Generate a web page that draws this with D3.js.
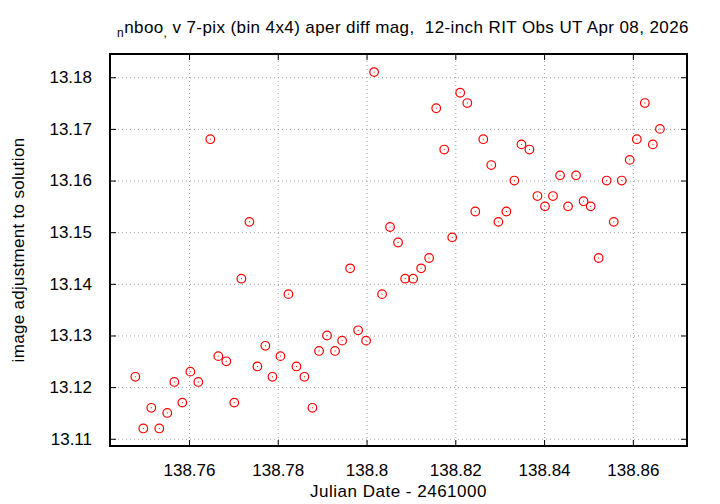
<!DOCTYPE html>
<meta charset="utf-8">
<style>
body { margin: 0; background: #fff; }
text { font-family: "Liberation Sans", Arial, sans-serif; }
.grid line { stroke: #a0a0a0; stroke-width: 1; stroke-dasharray: 1,3; }
.grid path { display: none; }
.axis path { display: none; }
.axis line { stroke: #000; stroke-width: 1; }
.axis text { font-size: 17px; fill: #000; }
.pt { fill: none; stroke: #f00; stroke-width: 1.2; }
</style>
<body>
<script src="https://cdn.jsdelivr.net/npm/d3@7"></script>
<script>

var width = 720, height = 504;
var margin = {left: 110, right: 33, top: 54, bottom: 58};

// julian date - 2461000
var jd = [138.7479, 138.7497, 138.7515, 138.7533, 138.7551, 138.7567, 138.7585, 138.7603, 138.7621,
  138.7648, 138.7666, 138.7684, 138.7702, 138.7718, 138.7736, 138.7754, 138.7772, 138.7788,
  138.7806, 138.7824, 138.7842, 138.7860, 138.7878, 138.7893, 138.7911, 138.7929, 138.7945,
  138.7963, 138.7981, 138.7999, 138.8017, 138.8035, 138.8053, 138.8071, 138.8087, 138.8105,
  138.8123, 138.8141, 138.8157, 138.8175, 138.8193, 138.8211, 138.8227, 138.8245, 138.8263,
  138.8281, 138.8297, 138.8315, 138.8333, 138.8349, 138.8367, 138.8385, 138.8402, 138.8420,
  138.8436, 138.8454, 138.8472, 138.8489, 138.8505, 138.8523, 138.8541, 138.8557, 138.8575,
  138.8593, 138.8609, 138.8627, 138.8645, 138.8661];
var mag = [13.122, 13.112, 13.116, 13.112, 13.115, 13.121, 13.117, 13.123, 13.121,
  13.168, 13.126, 13.125, 13.117, 13.141, 13.152, 13.124, 13.128, 13.122,
  13.126, 13.138, 13.124, 13.122, 13.116, 13.127, 13.130, 13.127, 13.129,
  13.143, 13.131, 13.129, 13.181, 13.138, 13.151, 13.148, 13.141, 13.141,
  13.143, 13.145, 13.174, 13.166, 13.149, 13.177, 13.175, 13.154, 13.168,
  13.163, 13.152, 13.154, 13.160, 13.167, 13.166, 13.157, 13.155, 13.157,
  13.161, 13.155, 13.161, 13.156, 13.155, 13.145, 13.160, 13.152, 13.160,
  13.164, 13.168, 13.175, 13.167, 13.170];

var xTicks = [138.76, 138.78, 138.8, 138.82, 138.84, 138.86];
var yTicks = [13.11, 13.12, 13.13, 13.14, 13.15, 13.16, 13.17, 13.18];

var svg = d3.select("body").append("svg")
    .attr("width", width)
    .attr("height", height);

var x = d3.scaleLinear().domain([138.7422, 138.8722]).range([margin.left, width - margin.right]);
var y = d3.scaleLinear().domain([13.1086, 13.1845]).range([height - margin.bottom, margin.top]);

var fmt = function(d) { return String(+d.toFixed(2)); };
var x0 = margin.left, x1 = width - margin.right, y0 = height - margin.bottom, y1 = margin.top;

// dotted grid
svg.append("g").attr("class", "grid")
    .attr("transform", "translate(0," + y0 + ")")
    .call(d3.axisBottom(x).tickValues(xTicks).tickSize(-(y0 - y1)).tickFormat(""));
svg.append("g").attr("class", "grid")
    .attr("transform", "translate(" + x0 + ",0)")
    .call(d3.axisLeft(y).tickValues(yTicks).tickSize(-(x1 - x0)).tickFormat(""));

// axes, ticks inward and mirrored
svg.append("g").attr("class", "axis")
    .attr("transform", "translate(0," + y0 + ")")
    .call(d3.axisBottom(x).tickValues(xTicks).tickSizeInner(-6).tickPadding(18).tickFormat(fmt));
svg.append("g").attr("class", "axis")
    .attr("transform", "translate(0," + y1 + ")")
    .call(d3.axisTop(x).tickValues(xTicks).tickSizeInner(-6).tickFormat(""));
svg.append("g").attr("class", "axis")
    .attr("transform", "translate(" + x0 + ",0)")
    .call(d3.axisLeft(y).tickValues(yTicks).tickSizeInner(-6).tickPadding(18).tickFormat(fmt));
svg.append("g").attr("class", "axis")
    .attr("transform", "translate(" + x1 + ",0)")
    .call(d3.axisRight(y).tickValues(yTicks).tickSizeInner(-6).tickFormat(""));

svg.append("rect")
    .attr("x", x0).attr("y", y1)
    .attr("width", x1 - x0).attr("height", y0 - y1)
    .attr("fill", "none").attr("stroke", "#000").attr("stroke-width", 2);

// points
var pts = svg.append("g");
pts.selectAll("circle")
    .data(jd)
    .enter().append("circle")
    .attr("class", "pt")
    .attr("cx", function(d) { return x(d); })
    .attr("cy", function(d, i) { return y(mag[i]); })
    .attr("r", 4.3);
pts.selectAll("rect")
    .data(jd)
    .enter().append("rect")
    .attr("x", function(d) { return x(d) - 0.5; })
    .attr("y", function(d, i) { return y(mag[i]) - 0.5; })
    .attr("width", 1).attr("height", 1)
    .attr("fill", "#f00");

// title with enhanced-text style subscripts
var title = svg.append("text")
    .attr("x", 403).attr("y", 33)
    .attr("text-anchor", "middle")
    .style("font-size", "17px")
    .style("letter-spacing", "0.4px")
    .style("fill", "#000");
title.append("tspan").attr("dy", 4).style("font-size", "12px").text("n");
title.append("tspan").attr("dy", -4).text("nboo");
title.append("tspan").attr("dy", 4).style("font-size", "12px").text(",");
title.append("tspan").attr("dy", -4).text(" v 7-pix (bin 4x4) aper diff mag,  12-inch RIT Obs UT Apr 08, 2026")
    .style("white-space", "pre");

svg.append("text")
    .attr("x", (x0 + x1) / 2).attr("y", 497)
    .attr("text-anchor", "middle")
    .style("font-size", "17px")
    .style("letter-spacing", "0.5px")
    .text("Julian Date - 2461000");

svg.append("text")
    .attr("transform", "translate(24," + ((y0 + y1) / 2) + ") rotate(-90)")
    .attr("text-anchor", "middle")
    .style("font-size", "17px")
    .style("letter-spacing", "0.3px")
    .text("image adjustment to solution");

</script>
</body>
</html>
